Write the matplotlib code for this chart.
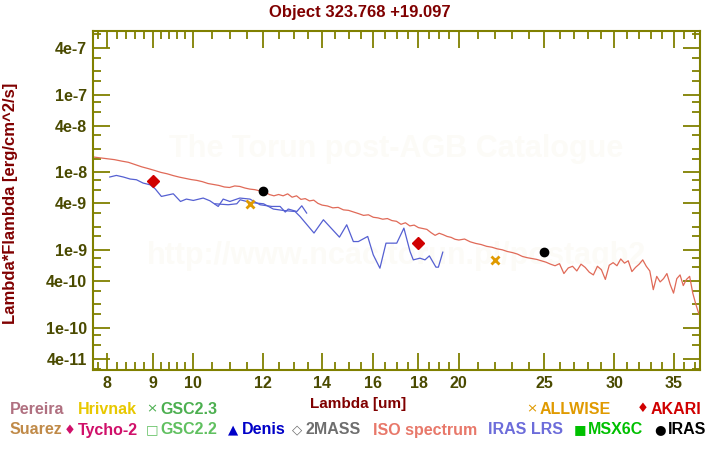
import matplotlib
matplotlib.use("Agg")
import matplotlib.pyplot as plt
from matplotlib.ticker import FixedLocator, NullFormatter

plt.rcParams['font.family'] = ['Liberation Sans', 'DejaVu Sans']

# ---------------- data ----------------
title = "Object 323.768 +19.097"

# ISO spectrum (wavelength um, flux in units of 1e-10 erg/cm^2/s)
iso_wl = [7.71, 7.85, 8.0, 8.15, 8.3, 8.45, 8.6, 8.75, 8.9, 9.05, 9.2, 9.35, 9.5, 9.65, 9.8, 9.95,
          10.1, 10.25, 10.4, 10.55, 10.7, 10.85, 11.0, 11.15, 11.3, 11.45, 11.6, 11.75, 11.9, 12.05,
          12.2, 12.35, 12.5, 12.65, 12.8, 12.95, 13.1, 13.25, 13.4, 13.55, 13.7, 13.85, 14.0, 14.2,
          14.4, 14.6, 14.8, 15.0, 15.2, 15.4, 15.6, 15.8, 16.0, 16.2, 16.4, 16.6, 16.8, 17.0, 17.2,
          17.4, 17.6, 17.8, 18.0, 18.2, 18.4, 18.6, 18.8, 19.0, 19.2, 19.4, 19.6, 19.8, 20.0, 20.3,
          20.6, 20.9, 21.2, 21.5, 21.8, 22.1, 22.4, 22.7, 23.0, 23.3, 23.6, 23.9, 24.2, 24.5, 24.8,
          25.1, 25.4, 25.7, 26.0, 26.3, 26.6, 26.9, 27.2, 27.5, 27.8, 28.1, 28.4, 28.7, 29.0, 29.3,
          29.6, 29.9, 30.2, 30.5, 30.8, 31.1, 31.4, 31.7, 32.0, 32.3, 32.6, 32.9, 33.2, 33.5, 33.8,
          34.1, 34.4, 34.7, 35.0, 35.3, 35.6, 35.9, 36.2, 36.5, 36.8, 37.1, 37.4]
iso_flux_1e10 = [158, 154, 150, 146, 140, 135, 126, 118, 112, 106, 100, 96, 91, 87, 84, 81,
                 79, 76, 72, 70, 68, 65, 64, 67, 66, 63, 61, 60, 58, 57,
                 52, 50, 52, 50, 53, 48, 50, 45, 46, 43, 44, 40, 38, 37,
                 35, 35.5, 33, 32.5, 31, 29.5, 28, 28.5, 26.5, 26, 25, 25.5, 24, 23.5, 21.5,
                 22.5, 20.5, 21, 19.5, 19, 18.5, 16.8, 15.5, 16.5, 15.8, 15, 14.6, 13.8, 13.5, 13.9,
                 12.8, 12.2, 11.8, 11.2, 10.9, 10.4, 10.1, 9.6, 9.3, 8.9, 8.3, 8.0, 7.8, 7.6, 7.3,
                 7.0, 6.6, 6.3, 6.7, 5.0, 5.9, 6.2, 5.4, 6.6, 6.0, 5.2, 4.8, 6.2, 5.6, 4.2,
                 6.4, 6.9, 6.3, 7.7, 6.8, 7.3, 5.3, 6.0, 6.6, 7.5, 6.2, 5.4, 3.1, 4.6, 3.9,
                 4.3, 5.0, 3.6, 2.8, 4.3, 4.8, 3.5, 4.2, 4.6, 2.8, 2.0, 1.5]

# IRAS LRS, blue band and red band (flux in units of 1e-10)
lrs1_wl = [8.05, 8.19, 8.34, 8.49, 8.63, 8.78, 8.94, 9.06, 9.21, 9.50, 9.68, 9.83, 10.01, 10.27,
           10.45, 10.68, 10.82, 11.01, 11.30, 11.60, 11.91, 12.28, 12.55, 12.72, 12.82, 13.11,
           13.28, 13.45]
lrs1_flux_1e10 = [87.3, 91.5, 87.3, 82.2, 80.5, 73.0, 69.4, 61.7, 49.1, 53.1, 42.3, 45.4, 43.6,
                  46.8, 43.2, 36.5, 45.4, 42.3, 46.8, 45.4, 38.4, 36.5, 36.5, 30.9, 33.8, 31.4,
                  37.2, 30.0]
lrs2_wl = [10.59, 10.96, 11.21, 11.31, 11.61, 12.02, 12.33, 12.66, 13.05, 13.22, 13.71, 14.05,
           14.65, 14.93, 15.19, 15.39, 15.77, 16.00, 16.28, 16.54, 17.01, 17.33, 17.61, 17.76,
           18.07, 18.31, 18.52, 18.84, 18.96, 19.18]
lrs2_flux_1e10 = [39.5, 38.4, 39.5, 44.5, 41.1, 39.5, 33.8, 32.4, 31.4, 27.1, 16.6, 24.6, 14.7,
                  21.2, 12.9, 12.9, 15.0, 8.70, 5.86, 12.3, 12.3, 19.2, 9.59, 7.50, 7.88, 7.50,
                  8.44, 6.04, 6.04, 9.42]

# photometry
akari_wl = [9.0, 18.0]
akari_flux = [7.8e-9, 1.24e-9]
iras_wl = [12.0, 25.0]
iras_flux = [5.8e-9, 9.5e-10]
allwise_wl = [11.6, 22.0]
allwise_flux = [3.95e-9, 7.5e-10]

x_major = [8, 9, 10, 12, 14, 16, 18, 20, 25, 30, 35]
y_major = [4e-11, 1e-10, 4e-10, 1e-9, 4e-9, 1e-8, 4e-8, 1e-7, 4e-7]
y_labels = ["4e-11", "1e-10", "4e-10", "1e-9", "4e-9", "1e-8", "4e-8", "1e-7", "4e-7"]

# ---------------- figure ----------------
W, H = 720, 450
fig = plt.figure(figsize=(W / 100, H / 100), dpi=100)
ax = fig.add_axes([92.7 / W, 1 - 370 / H, (700 - 92.7) / W, (370 - 30.5) / H])

olive = '#808000'
ticklab = '#4a4a00'
darkred = '#800000'

# watermark
ax.text(0.5, 0.65, "The Torun post-AGB Catalogue", transform=ax.transAxes, ha='center',
        va='center', fontsize=22, fontweight='bold', color='#FCFBF7', zorder=0)
ax.text(0.5, 0.335, "http://www.ncac.torun.pl/postagb2", transform=ax.transAxes, ha='center',
        va='center', fontsize=22, fontweight='bold', color='#FCFBF7', zorder=0)

iso_color = '#E06A58'
lrs_color = '#5560D2'
ax.plot(iso_wl, [v * 1e-10 for v in iso_flux_1e10], color=iso_color, lw=0.9, zorder=2)
ax.plot(lrs1_wl, [v * 1e-10 for v in lrs1_flux_1e10], color=lrs_color, lw=0.9, zorder=3)
ax.plot(lrs2_wl, [v * 1e-10 for v in lrs2_flux_1e10], color=lrs_color, lw=0.9, zorder=3)

ax.plot(akari_wl, akari_flux, ls='none', marker='D', ms=6, color='#D00000', zorder=5)
ax.plot(iras_wl, iras_flux, ls='none', marker='o', ms=6, color='black', zorder=5)
ax.plot(allwise_wl, allwise_flux, ls='none', marker='x', ms=6, mew=2, color='#E09A00', zorder=5)

ax.set_xscale('log')
ax.set_yscale('log')
ax.set_xlim(7.70, 37.5)
ax.set_ylim(2.87e-11, 6.7e-7)

x_minor = [7.8, 8.2, 8.4, 8.6, 8.8, 9.2, 9.4, 9.6, 9.8, 10.5, 11, 11.5, 12.5, 13, 13.5,
           14.5, 15, 15.5, 16.5, 17, 17.5, 18.5, 19, 19.5, 21, 22, 23, 24, 26, 27, 28, 29,
           31, 32, 33, 34, 36, 37]
y_minor = []
for e in range(-11, -5):
    for m in (1.5, 2, 3, 6, 8):
        y_minor.append(m * 10.0 ** e)

ax.xaxis.set_major_locator(FixedLocator(x_major))
ax.xaxis.set_minor_locator(FixedLocator(x_minor))
ax.set_xticklabels([str(v) for v in x_major])
ax.xaxis.set_minor_formatter(NullFormatter())
ax.yaxis.set_major_locator(FixedLocator(y_major))
ax.yaxis.set_minor_locator(FixedLocator(y_minor))
ax.set_yticklabels(y_labels)
ax.yaxis.set_minor_formatter(NullFormatter())

ax.tick_params(which='both', direction='in', top=True, right=True, color=olive, width=1.3)
ax.tick_params(which='major', length=12, pad=4, labelsize=11.5, labelcolor=ticklab)
ax.tick_params(which='minor', length=6)
for lab in ax.get_xticklabels() + ax.get_yticklabels():
    lab.set_fontweight('bold')
for sp in ax.spines.values():
    sp.set_color(olive)
    sp.set_linewidth(1.5)

fig.text(0.5, 1 - 12 / H, title, ha='center', va='center', fontsize=12,
         fontweight='bold', color=darkred)
fig.text(11 / W, 1 - 203 / H, "Lambda*Flambda [erg/cm^2/s]", rotation=90, ha='center',
         va='center', fontsize=12, fontweight='bold', color=darkred)
fig.text(358 / W, 1 - 404 / H, "Lambda [um]", ha='center', va='center', fontsize=11,
         fontweight='bold', color=darkred)

# legend rows (symbol, text, color, x start)
row1 = [("", "Pereira", '#B07080', 10), ("", "Hrivnak", '#E8C800', 77.5),
        ("×", "GSC2.3", '#4CAF50', 146), ("×", "ALLWISE", '#E09A00', 526),
        ("♦", "AKARI", '#D00000', 637)]
row2 = [("", "Suarez", '#C08A48', 10), ("♦", "Tycho-2", '#D0106A', 64),
        ("□", "GSC2.2", '#60C060', 146), ("▲", "Denis", '#0000C8', 228),
        ("◇", "2MASS", '#6E6E6E', 292), ("", "ISO spectrum", '#E8786A', 373),
        ("", "IRAS LRS", '#6C6CDA', 488), ("■", "MSX6C", '#00C000', 574),
        ("●", "IRAS", '#000000', 654)]
for row, yy in ((row1, 409), (row2, 430)):
    for sym, txt, col, x0 in row:
        if sym:
            fig.text(x0 / W, 1 - yy / H, sym, ha='left', va='center', fontsize=9.5,
                     color=col, family=['DejaVu Sans'])
            fig.text((x0 + 14) / W, 1 - yy / H, txt, ha='left', va='center', fontsize=11.5,
                     fontweight='bold', color=col)
        else:
            fig.text(x0 / W, 1 - yy / H, txt, ha='left', va='center', fontsize=11.5,
                     fontweight='bold', color=col)

fig.savefig("out.png", dpi=100)
